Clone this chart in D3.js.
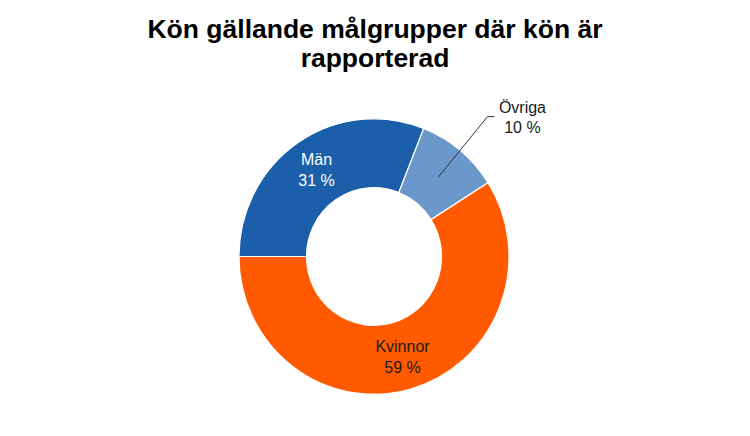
<!DOCTYPE html>
<html>
<head>
<meta charset="utf-8">
<script src="https://cdn.jsdelivr.net/npm/d3@7"></script>
<style>
  html, body { margin: 0; padding: 0; background: #fff; }
  svg { display: block; font-family: "Liberation Sans", Arial, sans-serif; }
</style>
</head>
<body>
<svg id="chart" width="750" height="436"></svg>
<script>
const titleLines = ["Kön gällande målgrupper där kön är", "rapporterad"];
const categories = ["Män", "Övriga", "Kvinnor"];
const values = [31, 10, 59];
const colors = ["#1b5faa", "#6b98cb", "#ff5a00"];
const labelColors = ["#ffffff", "#1a1a1a", "#1a1a1a"];

const svg = d3.select("#chart");
const W = 750, H = 436;
const cx = 374, cy = 256.5;
const rOuter = 135, rInner = 67.5;
const yStretch = 1.02;

// Title
svg.append("g").selectAll("text").data(titleLines).join("text")
  .attr("x", 375).attr("y", (d, i) => 38 + i * 29)
  .attr("text-anchor", "middle")
  .attr("font-size", 26.5).attr("font-weight", "bold").attr("fill", "#000")
  .text(d => d);

const data = categories.map((c, i) => ({ name: c, value: values[i], color: colors[i], lc: labelColors[i] }));
const pie = d3.pie().value(d => d.value).sort(null)
  .startAngle(-Math.PI / 2).endAngle(Math.PI * 1.5);
const arcs = pie(data);

const arc = d3.arc().innerRadius(rInner).outerRadius(rOuter);
const labelArc = d3.arc().innerRadius(rInner).outerRadius(rOuter + 2);
const outerArc = d3.arc().innerRadius(178).outerRadius(178);

const g = svg.append("g").attr("transform", `translate(${cx},${cy}) scale(1,${yStretch})`);
g.selectAll("path").data(arcs).join("path")
  .attr("d", arc)
  .attr("fill", d => d.data.color)
  .attr("stroke", "#ffffff")
  .attr("stroke-width", 1.2);

const toScreen = p => [cx + p[0], cy + p[1] * yStretch];

// Labels
arcs.forEach(a => {
  const lines = [a.data.name, a.data.value + " %"];
  if (a.data.name !== "Övriga") {
    const [x, y] = toScreen(labelArc.centroid(a));
    svg.append("text")
      .attr("x", x).attr("y", y - 5)
      .attr("text-anchor", "middle")
      .attr("font-size", 16).attr("fill", a.data.lc)
      .selectAll("tspan").data(lines).join("tspan")
      .attr("x", x).attr("dy", (d, i) => i === 0 ? 0 : 21)
      .text(d => d);
  } else {
    const p0 = toScreen(arc.centroid(a));
    const p1 = toScreen(outerArc.centroid(a));
    const p2 = [p1[0] + 7, p1[1]];
    svg.append("polyline")
      .attr("points", [p0, p1, p2].map(p => p.join(",")).join(" "))
      .attr("fill", "none").attr("stroke", "#333").attr("stroke-width", 1);
    const tx = p2[0] + 28;
    svg.append("text")
      .attr("x", tx).attr("y", p2[1] - 4)
      .attr("text-anchor", "middle")
      .attr("font-size", 16).attr("fill", a.data.lc)
      .selectAll("tspan").data(lines).join("tspan")
      .attr("x", tx).attr("dy", (d, i) => i === 0 ? 0 : 20)
      .text(d => d);
  }
});
</script>
</body>
</html>
